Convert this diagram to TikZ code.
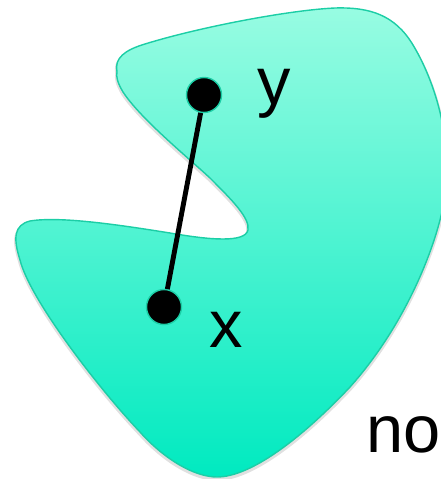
\documentclass[tikz,border=0pt]{standalone}
\usepackage{fontspec}
\setmainfont{Liberation Sans}
\definecolor{blobtop}{RGB}{152,252,226}
\definecolor{blobbot}{RGB}{0,234,192}
\definecolor{blobedge}{RGB}{28,206,166}
\def\blobpath{(117,72) .. controls (114,58) and (125,50) .. (145,44)
 .. controls (200,27) and (290,10) .. (335,8)
 .. controls (370,7) and (395,15) .. (413,45)
 .. controls (440,90) and (452,150) .. (445,195)
 .. controls (440,235) and (410,320) .. (350,387)
 .. controls (300,440) and (250,477) .. (217,477)
 .. controls (195,477) and (165,460) .. (140,432)
 .. controls (100,390) and (30,300) .. (20,260)
 .. controls (13,238) and (14,225) .. (30,221)
 .. controls (60,216) and (120,225) .. (170,233)
 .. controls (210,240) and (245,243) .. (248,230)
 .. controls (250,218) and (232,200) .. (210,178)
 .. controls (185,155) and (140,118) .. (123,92)
 .. controls (117,82) and (116,76) .. (117,72) -- cycle}
\tikzset{
  dot/.style={circle, fill=black, draw=blobedge, line width=0.8pt, minimum size=0.7cm, inner sep=0pt},
  lbl/.style={anchor=base west, inner sep=0pt, font=\fontsize{38}{40}\selectfont}
}
\begin{document}
\begin{tikzpicture}[x=0.02cm, y=-0.02cm]
\useasboundingbox (0,0) rectangle (440,479);
\path[draw=black!35, opacity=0.35, line width=2pt, yshift=-1.2pt] \blobpath;
\path[draw=blobedge, line width=0.8pt, top color=blobtop, bottom color=blobbot] \blobpath;
\node[dot] (y) at (204,95) {};
\node[dot] (x) at (164,307) {};
\draw[line width=2.8pt] (y) -- (x);
\node[lbl] (ly) at (257,105) {y};
\node[lbl] (lx) at (209,347) {x};
\node[lbl] (lno) at (366,452) {no};
\end{tikzpicture}
\end{document}
